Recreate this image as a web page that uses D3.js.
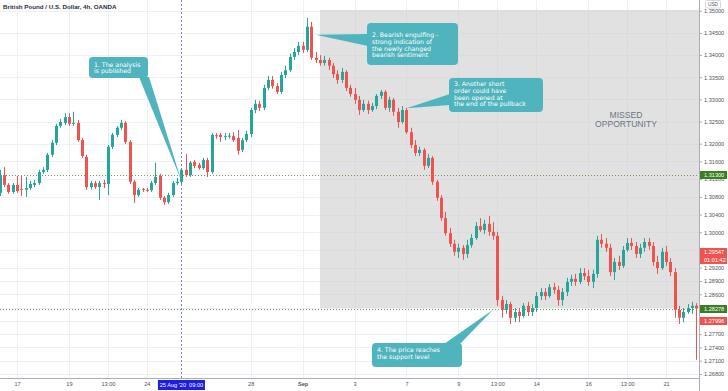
<!DOCTYPE html>
<html><head><meta charset="utf-8">
<script src="https://cdn.jsdelivr.net/npm/d3@7"></script>
<style>html,body{margin:0;padding:0;background:#fff;overflow:hidden}svg{display:block;font-family:"Liberation Sans",Arial,sans-serif}</style>
</head><body><svg id="c" width="728" height="391"></svg>
<script>
// ---- DATA (GBP/USD 4h, OANDA) : [open, high, low, close] ----
const candles = [
[1.3089,1.3141,1.3082,1.3129],[1.3129,1.3147,1.3102,1.3107],[1.3107,1.3111,1.3087,1.3091],[1.3091,1.3111,1.3087,1.3107],
[1.3107,1.3127,1.3089,1.3093],[1.3098,1.3127,1.3082,1.3096],[1.3096,1.3125,1.3080,1.3100],[1.3100,1.3116,1.3096,1.3109],
[1.3107,1.3118,1.3102,1.3111],[1.3111,1.3141,1.3107,1.3136],[1.3136,1.3147,1.3132,1.3141],[1.3141,1.3179,1.3136,1.3175],
[1.3175,1.3208,1.3170,1.3202],[1.3202,1.3245,1.3197,1.3240],[1.3240,1.3256,1.3236,1.3249],[1.3247,1.3269,1.3242,1.3260],
[1.3260,1.3269,1.3240,1.3245],[1.3245,1.3272,1.3240,1.3247],[1.3247,1.3254,1.3204,1.3208],[1.3208,1.3213,1.3168,1.3172],
[1.3170,1.3175,1.3096,1.3102],[1.3102,1.3116,1.3096,1.3111],[1.3111,1.3116,1.3098,1.3102],[1.3102,1.3116,1.3073,1.3111],
[1.3111,1.3118,1.3100,1.3109],[1.3109,1.3197,1.3084,1.3193],[1.3193,1.3224,1.3188,1.3220],[1.3220,1.3240,1.3215,1.3236],
[1.3236,1.3254,1.3231,1.3247],[1.3247,1.3251,1.3199,1.3204],[1.3204,1.3208,1.3109,1.3114],[1.3114,1.3118,1.3066,1.3084],
[1.3084,1.3100,1.3080,1.3096],[1.3098,1.3100,1.3091,1.3096],[1.3096,1.3100,1.3091,1.3095],[1.3095,1.3116,1.3091,1.3111],
[1.3111,1.3157,1.3107,1.3125],[1.3127,1.3132,1.3073,1.3078],[1.3078,1.3082,1.3062,1.3068],[1.3068,1.3089,1.3064,1.3084],
[1.3084,1.3116,1.3080,1.3111],[1.3111,1.3123,1.3107,1.3114],[1.3114,1.3145,1.3109,1.3141],[1.3141,1.3177,1.3125,1.3129],
[1.3129,1.3161,1.3125,1.3157],[1.3159,1.3163,1.3145,1.3150],[1.3152,1.3157,1.3141,1.3145],[1.3145,1.3168,1.3141,1.3163],
[1.3163,1.3168,1.3125,1.3136],[1.3136,1.3224,1.3132,1.3220],[1.3219,1.3224,1.3211,1.3217],[1.3220,1.3224,1.3204,1.3215],
[1.3216,1.3224,1.3208,1.3217],[1.3217,1.3224,1.3211,1.3218],[1.3217,1.3226,1.3204,1.3208],[1.3213,1.3231,1.3175,1.3184],
[1.3186,1.3213,1.3181,1.3208],[1.3208,1.3229,1.3204,1.3222],[1.3222,1.3281,1.3215,1.3276],[1.3276,1.3299,1.3269,1.3290],
[1.3290,1.3297,1.3274,1.3281],[1.3281,1.3333,1.3276,1.3326],[1.3326,1.3353,1.3321,1.3344],[1.3344,1.3353,1.3324,1.3330],
[1.3330,1.3337,1.3312,1.3317],[1.3317,1.3362,1.3312,1.3355],[1.3355,1.3376,1.3348,1.3366],[1.3366,1.3403,1.3362,1.3396],
[1.3396,1.3416,1.3389,1.3407],[1.3407,1.3430,1.3400,1.3421],[1.3421,1.3430,1.3405,1.3412],[1.3412,1.3484,1.3407,1.3464],
[1.3464,1.3475,1.3389,1.3394],[1.3394,1.3407,1.3382,1.3389],[1.3389,1.3400,1.3376,1.3382],[1.3382,1.3398,1.3376,1.3389],
[1.3389,1.3394,1.3366,1.3376],[1.3376,1.3382,1.3348,1.3357],[1.3357,1.3366,1.3335,1.3344],[1.3344,1.3371,1.3337,1.3362],
[1.3362,1.3366,1.3319,1.3326],[1.3326,1.3333,1.3306,1.3312],[1.3312,1.3326,1.3290,1.3299],[1.3299,1.3308,1.3265,1.3276],
[1.3276,1.3299,1.3272,1.3290],[1.3290,1.3297,1.3267,1.3276],[1.3276,1.3292,1.3272,1.3285],[1.3285,1.3312,1.3278,1.3308],
[1.3308,1.3321,1.3301,1.3317],[1.3317,1.3321,1.3276,1.3281],[1.3281,1.3306,1.3272,1.3299],[1.3299,1.3303,1.3263,1.3272],
[1.3272,1.3281,1.3236,1.3249],[1.3249,1.3285,1.3245,1.3276],[1.3276,1.3281,1.3222,1.3226],[1.3226,1.3236,1.3190,1.3197],
[1.3197,1.3208,1.3172,1.3179],[1.3179,1.3193,1.3172,1.3186],[1.3186,1.3190,1.3141,1.3150],[1.3150,1.3177,1.3145,1.3168],
[1.3168,1.3172,1.3107,1.3114],[1.3114,1.3118,1.3071,1.3078],[1.3078,1.3084,1.3026,1.3032],[1.3032,1.3046,1.2992,1.2998],
[1.2998,1.3010,1.2967,1.2974],[1.2974,1.2983,1.2947,1.2956],[1.2956,1.2974,1.2942,1.2965],[1.2965,1.2971,1.2938,1.2951],
[1.2951,1.2983,1.2942,1.2971],[1.2971,1.2996,1.2965,1.2987],[1.2987,1.3023,1.2983,1.3014],[1.3014,1.3032,1.3001,1.3005],
[1.3005,1.3028,1.2996,1.3019],[1.3019,1.3037,1.2992,1.3001],[1.3001,1.3023,1.2983,1.2992],[1.2992,1.3001,1.2834,1.2847],
[1.2847,1.2856,1.2807,1.2825],[1.2825,1.2847,1.2816,1.2838],[1.2838,1.2843,1.2793,1.2807],[1.2807,1.2829,1.2797,1.2820],
[1.2820,1.2829,1.2797,1.2811],[1.2811,1.2840,1.2807,1.2834],[1.2834,1.2843,1.2811,1.2820],[1.2820,1.2838,1.2811,1.2829],
[1.2829,1.2865,1.2820,1.2856],[1.2856,1.2874,1.2847,1.2865],[1.2865,1.2874,1.2847,1.2856],[1.2856,1.2883,1.2852,1.2876],
[1.2876,1.2886,1.2861,1.2870],[1.2870,1.2879,1.2834,1.2847],[1.2847,1.2874,1.2834,1.2865],[1.2865,1.2897,1.2856,1.2888],
[1.2888,1.2904,1.2879,1.2895],[1.2895,1.2906,1.2879,1.2888],[1.2888,1.2919,1.2883,1.2908],[1.2908,1.2919,1.2892,1.2901],
[1.2901,1.2915,1.2879,1.2888],[1.2888,1.2915,1.2874,1.2906],[1.2906,1.2992,1.2897,1.2983],[1.2983,1.2996,1.2965,1.2974],
[1.2974,1.2987,1.2956,1.2965],[1.2965,1.2974,1.2901,1.2910],[1.2910,1.2942,1.2892,1.2933],[1.2933,1.2947,1.2915,1.2924],
[1.2924,1.2969,1.2919,1.2960],[1.2960,1.2987,1.2956,1.2976],[1.2976,1.2987,1.2960,1.2969],[1.2969,1.2978,1.2942,1.2951],
[1.2951,1.2974,1.2942,1.2965],[1.2965,1.2987,1.2956,1.2978],[1.2978,1.2987,1.2960,1.2969],[1.2969,1.2978,1.2924,1.2933],
[1.2933,1.2947,1.2906,1.2919],[1.2919,1.2965,1.2915,1.2956],[1.2956,1.2969,1.2924,1.2933],[1.2933,1.2942,1.2901,1.2910],
[1.2910,1.2919,1.2807,1.2825],[1.2825,1.2834,1.2793,1.2807],[1.2807,1.2829,1.2797,1.2820],[1.2820,1.2838,1.2816,1.2829],
[1.2829,1.2843,1.2816,1.2834],[1.2834,1.2840,1.2712,1.2828]
];
const priceTicks = [1.350,1.345,1.340,1.335,1.330,1.325,1.320,1.316,1.312,1.308,1.304,1.300,1.296,1.292,1.289,1.286,1.283,1.280,1.277,1.274,1.271,1.268];
const coveredTickLabels = [1.296,1.283,1.280];
const timeTickIndex = [4,16,25,34,58,70,82,94,106,115,124,136,145,154];
const timeTickLabels = ["17","19","13:00","24","28","Sep","3","7","9","13:00","14","16","13:00","21"];
const boldTimeLabels = ["Sep"];
const title = "British Pound / U.S. Dollar, 4h, OANDA";
const currency = "USD";
const analysisIndex = 42;
const analysisLabel = "25 Aug '20\u00a0\u00a009:00";
const resistanceLevel = 1.31300;
const supportLevel = 1.28278;
const markPrice = 1.29547;
const countdown = "01:01:42";
const lastPrice = 1.27996;
const zoneStartIndex = 74, zoneTop = 1.3502, zoneBottom = 1.2829;
const zoneLabel = ["MISSED", "OPPORTUNITY"];
const notes = [
  {lines:["1. The analysis","is published"], box:[89,57,59,21], first:64.5, step:6.7, base:[[139,77],[149,77]], tip:[42,1.3116]},
  {lines:["2.  Bearish engulfing -","strong indication of","the newly changed","bearish sentiment"], box:[367,23,91,42], first:35, step:6.7, base:[[368,34],[368,46]], tip:[73,1.3446]},
  {lines:["3. Another short","order could have","been opened at","the end of the pullback"], box:[449,78,94,34], first:84, step:6.7, base:[[450,94],[450,105]], tip:[94,1.3280]},
  {lines:["4. The price reaches","the support level"], box:[372,343,90,24], first:350, step:7, base:[[444,344],[460,344]], tip:[114,1.2825]}
];

// ---- LAYOUT ----
const W = 728, H = 391, plotR = 699, axisY = 378;
const up = "#26a69a", down = "#ef5350";
const svg = d3.select("#c");
const x = d3.scaleLinear().domain([0, 161]).range([-0.3, 696.4]);
const y = d3.scaleLinear().domain([1.268, 1.350]).range([374, 10.8]);

svg.append("rect").attr("width", W).attr("height", H).attr("fill", "#fff");
svg.append("defs").append("clipPath").attr("id", "plot").append("rect")
  .attr("x", 0).attr("y", 0).attr("width", plotR).attr("height", axisY);

const grid = svg.append("g").attr("clip-path", "url(#plot)");
grid.selectAll(".hg").data(priceTicks).join("line")
  .attr("x1", 0).attr("x2", plotR).attr("y1", d => Math.round(y(d)) + 0.5).attr("y2", d => Math.round(y(d)) + 0.5)
  .attr("stroke", "#eef0f4");
grid.selectAll(".vg").data(timeTickIndex).join("line")
  .attr("x1", d => Math.round(x(d)) + 0.5).attr("x2", d => Math.round(x(d)) + 0.5).attr("y1", 0).attr("y2", axisY)
  .attr("stroke", "#eef0f4");

// missed opportunity zone
svg.append("rect")
  .attr("x", x(zoneStartIndex)).attr("y", y(zoneTop))
  .attr("width", plotR - x(zoneStartIndex)).attr("height", y(zoneBottom) - y(zoneTop))
  .attr("fill", "#cfcfcf").attr("fill-opacity", 0.62);
const zl = svg.append("text").attr("x", 626).attr("y", 118).attr("text-anchor", "middle")
  .attr("font-size", 8.6).attr("fill", "#6b7684");
zl.selectAll("tspan").data(zoneLabel).join("tspan")
  .attr("x", 626).attr("dy", (d, i) => i ? 9 : 0).text(d => d);

// level lines
const lv = svg.append("g").attr("clip-path", "url(#plot)");
lv.selectAll("line").data([resistanceLevel, supportLevel]).join("line")
  .attr("x1", 0).attr("x2", plotR).attr("y1", d => Math.round(y(d)) + 0.5).attr("y2", d => Math.round(y(d)) + 0.5)
  .attr("stroke", "#6f9a55").attr("stroke-dasharray", "1,2");

// analysis vertical line
svg.append("line").attr("x1", Math.round(x(analysisIndex)) + 0.5).attr("x2", Math.round(x(analysisIndex)) + 0.5)
  .attr("y1", 0).attr("y2", axisY).attr("stroke", "#7c7cd8").attr("stroke-dasharray", "2,2");

// candles
const cg = svg.append("g").attr("clip-path", "url(#plot)");
const c = cg.selectAll("g").data(candles).join("g");
c.append("line")
  .attr("x1", (d, i) => Math.round(x(i)) + 0.5).attr("x2", (d, i) => Math.round(x(i)) + 0.5)
  .attr("y1", d => y(d[1])).attr("y2", d => y(d[2]))
  .attr("stroke", d => d[3] >= d[0] ? up : down).attr("stroke-width", 1);
c.append("rect")
  .attr("x", (d, i) => Math.round(x(i)) - 1).attr("width", 3)
  .attr("y", d => y(Math.max(d[0], d[3])))
  .attr("height", d => Math.max(1, Math.abs(y(d[0]) - y(d[3]))))
  .attr("fill", d => d[3] >= d[0] ? up : down);

// callouts
const teal = "#4fb4bd";
notes.forEach(n => {
  const g = svg.append("g");
  const [bx, by, bw, bh] = n.box;
  const tx = x(n.tip[0]), ty = y(n.tip[1]);
  g.append("polygon").attr("points", [n.base[0], n.base[1], [tx, ty]].map(p => p.join(",")).join(" ")).attr("fill", teal);
  g.append("rect").attr("x", bx).attr("y", by).attr("width", bw).attr("height", bh).attr("rx", 4).attr("fill", teal);
  g.selectAll("text").data(n.lines).join("text")
    .attr("x", bx + 5).attr("y", (d, i) => n.first + i * n.step + 2.2)
    .attr("font-family", "'DejaVu Sans',Verdana,sans-serif").attr("font-size", 6.2).attr("fill", "#fff")
    .text(d => d);
});

// axes lines
svg.append("line").attr("x1", 0).attr("x2", plotR).attr("y1", axisY + 0.5).attr("y2", axisY + 0.5).attr("stroke", "#a9adb5");
svg.append("line").attr("x1", plotR + 0.5).attr("x2", plotR + 0.5).attr("y1", 0).attr("y2", H).attr("stroke", "#a9adb5");

// right price axis
const ra = svg.append("g").attr("transform", `translate(${plotR},0)`)
  .call(d3.axisRight(y).tickValues(priceTicks).tickFormat(d3.format(".5f")).tickSize(3).tickPadding(2));
ra.select(".domain").remove();
ra.selectAll("line").attr("stroke", "#a9adb5");
ra.selectAll("text").attr("font-size", 5.6).attr("fill", "#50535e").attr("font-family", "'Liberation Sans',Arial,sans-serif");
ra.selectAll(".tick").filter(d => coveredTickLabels.some(v => Math.abs(v - d) < 1e-9)).select("text").remove();

// bottom time axis
const ba = svg.append("g").attr("transform", `translate(0,${axisY})`)
  .call(d3.axisBottom(x).tickValues(timeTickIndex).tickFormat((d, i) => timeTickLabels[i]).tickSize(0).tickPadding(4));
ba.select(".domain").remove();
ba.selectAll("text").attr("font-size", 5.6).attr("fill", "#50535e").attr("font-family", "'Liberation Sans',Arial,sans-serif")
  .attr("font-weight", (d, i) => boldTimeLabels.includes(timeTickLabels[i]) ? "bold" : "normal");

// analysis date label
const ax = x(analysisIndex);
svg.append("rect").attr("x", ax - 23.5).attr("y", 380).attr("width", 47).attr("height", 10).attr("fill", "#1d1de6");
svg.append("text").attr("x", ax).attr("y", 387).attr("text-anchor", "middle").attr("font-size", 5.6).attr("fill", "#fff").text(analysisLabel);

// price labels on axis
function tag(val, txt, color, dy) {
  const yy = Math.round(y(val)) + (dy || 0);
  svg.append("rect").attr("x", plotR + 1).attr("y", yy - 4).attr("width", W - plotR - 2).attr("height", 8).attr("fill", color);
  svg.append("text").attr("x", plotR + 5).attr("y", yy + 2).attr("font-size", 5.6).attr("fill", "#fff").text(txt);
}
tag(resistanceLevel, d3.format(".5f")(resistanceLevel), "#3b7d22");
tag(markPrice, d3.format(".5f")(markPrice), "#ef5350");
tag(markPrice, countdown, "#ef5350", 8);
tag(supportLevel, d3.format(".5f")(supportLevel), "#3b7d22");
tag(lastPrice, d3.format(".5f")(lastPrice), "#ef5350");

// currency box
svg.append("rect").attr("x", 705.5).attr("y", 0.5).attr("width", 15).attr("height", 7.5).attr("fill", "#fff").attr("stroke", "#d5d8de").attr("rx", 1);
svg.append("text").attr("x", 713).attr("y", 6).attr("text-anchor", "middle").attr("font-size", 4.8).attr("fill", "#50535e").text(currency);

// title
svg.append("text").attr("x", 3).attr("y", 9).attr("font-size", 6.2).attr("font-weight", "bold").attr("fill", "#2a2e39").text(title);
</script></body></html>
